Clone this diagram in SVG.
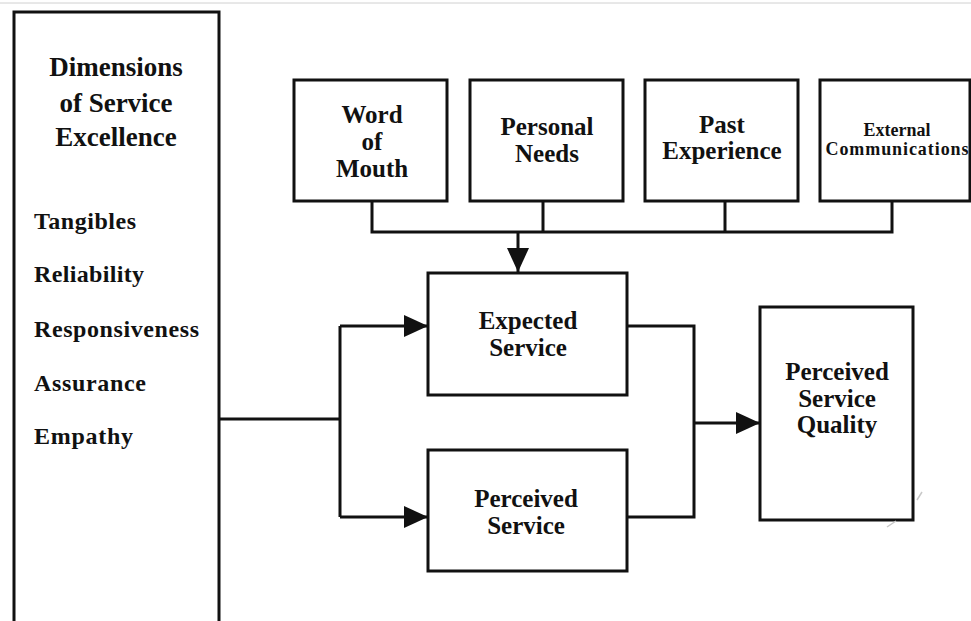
<svg xmlns="http://www.w3.org/2000/svg" width="971" height="621" viewBox="0 0 971 621">
  <defs>
    <style>
      .box { fill: #fff; stroke: #111; stroke-width: 3; }
      .wire { fill: none; stroke: #111; stroke-width: 3; stroke-linejoin: miter; }
      .lbl { font-family: "Liberation Serif", "Times New Roman", serif; font-weight: bold; fill: #111; text-anchor: middle; font-size: 25px; }
      .title { font-size: 27px; }
      .item { text-anchor: start; font-size: 24px; }
      .small { font-size: 18px; }
    </style>
    <marker id="arrow" markerWidth="24" markerHeight="22" refX="24" refY="11" orient="auto" markerUnits="userSpaceOnUse">
      <path d="M0,0 L24,11 L0,22 Z" fill="#111"/>
    </marker>
  </defs>

  <rect width="971" height="621" fill="#fff"/>
  <line x1="0" y1="3" x2="971" y2="3" stroke="#d0d0d0" stroke-width="1"/>

  <g id="dimensions">
    <path class="box" d="M14,625 V12 H219 V625"/>
    <text class="lbl title" x="116" y="76">Dimensions</text>
    <text class="lbl title" x="116" y="112">of Service</text>
    <text class="lbl title" x="116" y="146">Excellence</text>
    <text class="lbl item" x="34" y="229" textLength="102">Tangibles</text>
    <text class="lbl item" x="34" y="282" textLength="110">Reliability</text>
    <text class="lbl item" x="34" y="337" textLength="165">Responsiveness</text>
    <text class="lbl item" x="34" y="391" textLength="112">Assurance</text>
    <text class="lbl item" x="34" y="444" textLength="99">Empathy</text>
  </g>

  <g id="word-of-mouth">
    <rect class="box" x="294" y="80" width="153" height="121"/>
    <text class="lbl" x="372" y="123">Word</text>
    <text class="lbl" x="372" y="150">of</text>
    <text class="lbl" x="372" y="177">Mouth</text>
  </g>

  <g id="personal-needs">
    <rect class="box" x="470" y="80" width="153" height="121"/>
    <text class="lbl" x="547" y="135">Personal</text>
    <text class="lbl" x="547" y="162">Needs</text>
  </g>

  <g id="past-experience">
    <rect class="box" x="645" y="80" width="153" height="121"/>
    <text class="lbl" x="722" y="133">Past</text>
    <text class="lbl" x="722" y="159">Experience</text>
  </g>

  <g id="external-communications">
    <rect class="box" x="820" y="80" width="150" height="121"/>
    <text class="lbl small" x="897" y="136">External</text>
    <text class="lbl small" x="897" y="155" textLength="143">Communications</text>
  </g>

  <g id="expected-service">
    <rect class="box" x="428" y="273" width="199" height="122"/>
    <text class="lbl" x="528" y="329">Expected</text>
    <text class="lbl" x="528" y="356">Service</text>
  </g>

  <g id="perceived-service">
    <rect class="box" x="428" y="450" width="199" height="121"/>
    <text class="lbl" x="526" y="507">Perceived</text>
    <text class="lbl" x="526" y="534">Service</text>
  </g>

  <g id="perceived-service-quality">
    <rect class="box" x="760" y="307" width="153" height="213"/>
    <text class="lbl" x="837" y="380">Perceived</text>
    <text class="lbl" x="837" y="407">Service</text>
    <text class="lbl" x="837" y="433">Quality</text>
  </g>

  <g id="connectors">
    <!-- expectation sources merge into one bus -->
    <path class="wire" d="M372,201 V232 H892 V201"/>
    <path class="wire" d="M543,201 V232"/>
    <path class="wire" d="M725,201 V232"/>
    <path class="wire" d="M518,232 V272" marker-end="url(#arrow)"/>
    <!-- dimensions split to expected and perceived service -->
    <path class="wire" d="M219,419 H340"/>
    <path class="wire" d="M340,326 V517"/>
    <path class="wire" d="M340,326 H428" marker-end="url(#arrow)"/>
    <path class="wire" d="M340,517 H428" marker-end="url(#arrow)"/>
    <!-- gap between the two feeds perceived quality -->
    <path class="wire" d="M627,326 H694 V517 H627"/>
    <path class="wire" d="M694,423 H760" marker-end="url(#arrow)"/>
  </g>

  <g id="marks" stroke="#c8c8c8" stroke-width="1.5">
    <line x1="917" y1="500" x2="922" y2="492"/>
    <line x1="887" y1="527" x2="896" y2="521"/>
  </g>
</svg>
